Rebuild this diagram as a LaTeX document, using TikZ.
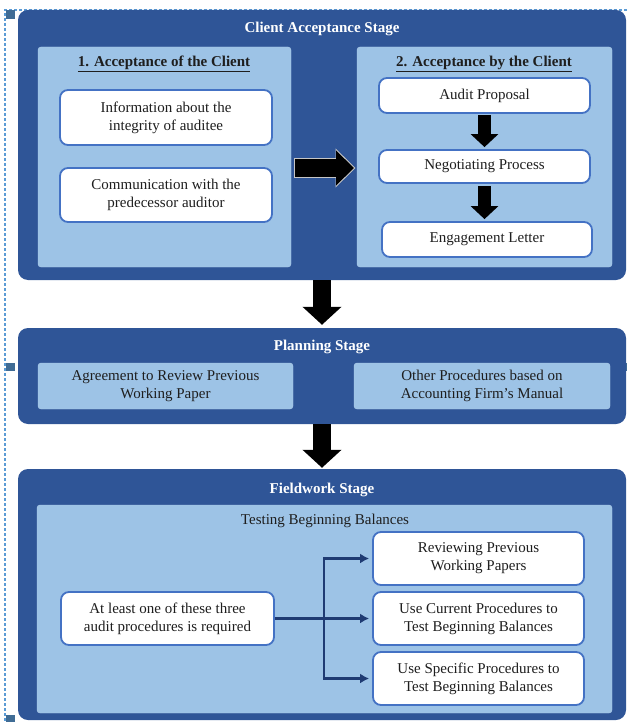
\documentclass[tikz,border=0pt]{standalone}
\usepackage{fontspec}
\setmainfont{Liberation Serif}
\usepackage{tikz}
\usetikzlibrary{arrows.meta,calc}
\definecolor{stageblue}{HTML}{2F5597}
\definecolor{paleblue}{HTML}{9DC3E6}
\definecolor{edgeblue}{HTML}{4472C4}
\definecolor{navyline}{HTML}{1F3B73}
\definecolor{selblue}{HTML}{5B9BD5}
\definecolor{inktext}{HTML}{1E1E1E}

\tikzset{
  every node/.style={font=\fontsize{15}{18}\selectfont, text=inktext},
  stagebox/.style={fill=stageblue, draw=none, rounded corners=10pt, minimum width=608pt},
  stagetitle/.style={font=\fontsize{15}{18}\selectfont\bfseries, text=white},
  innerbox/.style={fill=paleblue, draw=paleblue!80!white, rounded corners=3pt},
  whitebox/.style={fill=white, draw=edgeblue, line width=1.8pt, rounded corners=8pt, align=center},
  subhead/.style={font=\fontsize{15}{18}\selectfont\bfseries},
  bigdown/.style={line width=18pt, -{Triangle[length=18pt,width=38pt]}, black},
  smalldown/.style={line width=13pt, -{Triangle[length=13pt,width=27pt]}, black},
  branch/.style={draw=navyline, line width=2.5pt},
  branchtip/.style={branch, -{Latex[length=9pt,width=10pt]}},
  handle/.style={fill=#1, draw=none}
}

\begin{document}
\begin{tikzpicture}[x=1pt,y=-1pt]
\useasboundingbox (0,0) rectangle (627,722);

% selection frame
\draw[selblue, line width=1.3pt, dash pattern=on 3pt off 2pt] (627,10) -- (5,10) -- (5,722);
\fill[handle=selblue!70!black] (6,10) rectangle (15,19);
\fill[handle=selblue!50!white] (318,12) rectangle (326,19);
\fill[handle=selblue!70!black] (6,363) rectangle (15,371);
\fill[handle=selblue!70!black] (624,363) rectangle (627,371);
\fill[handle=selblue!70!black] (6,715) rectangle (15,722);
\fill[handle=selblue!50!white] (318,715) rectangle (325,720);

% client acceptance stage
\node[stagebox, minimum height=270pt] (s1) at (322,145) {};
\node[stagetitle] (s1t) at (322,29) {Client Acceptance Stage};
\node[innerbox, minimum width=253pt, minimum height=220pt] (inL) at (164.5,157) {};
\node[innerbox, minimum width=255pt, minimum height=220pt] (inR) at (484.5,157) {};
\node[subhead] (hL) at (164,64) {\underline{1. Acceptance of the Client}};
\node[subhead] (hR) at (484,64) {\underline{2. Acceptance by the Client}};
\node[whitebox, minimum width=212pt, minimum height=55pt] (info) at (166,117.5) {Information about the\\integrity of auditee};
\node[whitebox, minimum width=212pt, minimum height=54pt] (comm) at (166,195) {Communication with the\\predecessor auditor};
\node[whitebox, minimum width=211pt, minimum height=35pt] (prop) at (484.5,95.5) {Audit Proposal};
\node[whitebox, minimum width=211pt, minimum height=33pt] (nego) at (484.5,166.5) {Negotiating Process};
\node[whitebox, minimum width=210pt, minimum height=35pt] (lett) at (487,239.5) {Engagement Letter};
\draw[smalldown, shorten <=1pt, shorten >=2pt] (prop.south) -- (prop.south |- nego.north);
\draw[smalldown, shorten <=2pt, shorten >=2pt] (nego.south) -- (nego.south |- lett.north);
\coordinate (ra1) at (295,168);
\coordinate (ra2) at (354,168);
\draw[line width=20pt, -{Triangle[length=20pt,width=38pt]}, gray!45, shorten <=-1pt, shorten >=-1.5pt] (ra1) -- (ra2);
\draw[line width=18pt, -{Triangle[length=18pt,width=34pt]}, black] (ra1) -- (ra2);

% planning stage
\node[stagebox, minimum height=96pt] (s2) at (322,376) {};
\node[stagetitle] (s2t) at (322,347) {Planning Stage};
\node[innerbox, minimum width=255pt, minimum height=46pt, align=center] (agree) at (165.5,386) {Agreement to Review Previous\\Working Paper};
\node[innerbox, minimum width=256pt, minimum height=46pt, align=center] (other) at (482,386) {Other Procedures based on\\Accounting Firm’s Manual};
\draw[bigdown, shorten >=3pt] (s1.south) -- (s2.north);

% fieldwork stage
\node[stagebox, minimum height=251pt] (s3) at (322,594.5) {};
\node[stagetitle] (s3t) at (322,490) {Fieldwork Stage};
\node[innerbox, minimum width=575pt, minimum height=208pt] (inF) at (324.5,609) {};
\node (test) at (325,521) {Testing Beginning Balances};
\node[whitebox, minimum width=213pt, minimum height=53pt] (least) at (167.5,618.5) {At least one of these three\\audit procedures is required};
\node[whitebox, minimum width=211pt, minimum height=53pt] (rev) at (478.5,558.5) {Reviewing Previous\\Working Papers};
\node[whitebox, minimum width=211pt, minimum height=53pt] (cur) at (478.5,618.5) {Use Current Procedures to\\Test Beginning Balances};
\node[whitebox, minimum width=211pt, minimum height=53pt] (spec) at (478.5,678.5) {Use Specific Procedures to\\Test Beginning Balances};
\draw[bigdown, shorten >=1pt] (s2.south) -- (s3.north);
\coordinate (fork) at (324,618.5);
\draw[branch] (least.east) -- (fork);
\draw[branchtip, shorten >=3pt] (fork) |- (rev.west);
\draw[branchtip, shorten >=3pt] (fork) -- (cur.west);
\draw[branchtip, shorten >=3pt] (fork) |- (spec.west);
\end{tikzpicture}
\end{document}
